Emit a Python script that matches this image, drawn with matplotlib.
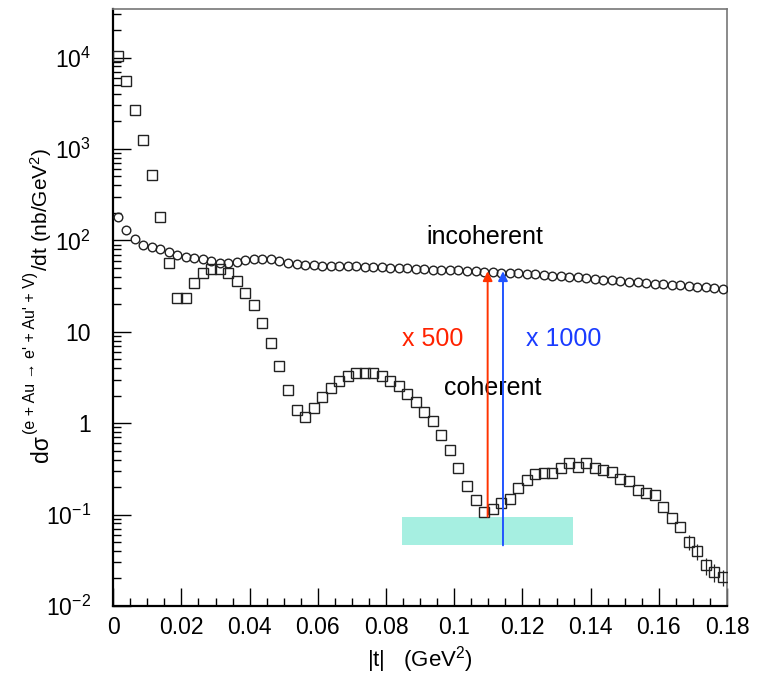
import numpy as np
import matplotlib
matplotlib.use("Agg")
import matplotlib.pyplot as plt
from matplotlib.ticker import FixedLocator, FixedFormatter, MultipleLocator, LogLocator, NullFormatter

plt.rcParams['font.family'] = ['Liberation Sans', 'DejaVu Sans']
plt.rcParams['mathtext.fontset'] = 'custom'
plt.rcParams['mathtext.rm'] = 'Liberation Sans'
plt.rcParams['mathtext.it'] = 'Liberation Sans:italic'
plt.rcParams['mathtext.bf'] = 'Liberation Sans:bold'

# bin centres in |t| (GeV^2)
t_bins = [0.00125, 0.00375, 0.00625, 0.00875, 0.01125, 0.01375, 0.01625, 0.01875,
          0.02125, 0.02375, 0.02625, 0.02875, 0.03125, 0.03375, 0.03625, 0.03875,
          0.04125, 0.04375, 0.04625, 0.04875, 0.05125, 0.05375, 0.05625, 0.05875,
          0.06125, 0.06375, 0.06625, 0.06875, 0.07125, 0.07375, 0.07625, 0.07875,
          0.08125, 0.08375, 0.08625, 0.08875, 0.09125, 0.09375, 0.09625, 0.09875,
          0.10125, 0.10375, 0.10625, 0.10875, 0.11125, 0.11375, 0.11625, 0.11875,
          0.12125, 0.12375, 0.12625, 0.12875, 0.13125, 0.13375, 0.13625, 0.13875,
          0.14125, 0.14375, 0.14625, 0.14875, 0.15125, 0.15375, 0.15625, 0.15875,
          0.16125, 0.16375, 0.16625, 0.16875, 0.17125, 0.17375, 0.17625, 0.17875]

# coherent cross section (squares)
coherent = [10500, 5500, 2700, 1240, 515, 180, 57, 23.3,
            23.3, 34.4, 44.3, 49, 49, 43.5, 35.6, 26.7,
            19.4, 12.6, 7.6, 4.25, 2.32, 1.38, 1.17, 1.45,
            1.93, 2.45, 2.9, 3.27, 3.5, 3.5, 3.5, 3.27,
            2.88, 2.54, 2.11, 1.7, 1.33, 1.06, 0.74, 0.506,
            0.327, 0.206, 0.143, 0.107, 0.116, 0.134, 0.147, 0.196,
            0.238, 0.281, 0.288, 0.288, 0.319, 0.362, 0.333, 0.365,
            0.324, 0.311, 0.29, 0.242, 0.233, 0.186, 0.17, 0.162,
            0.122, 0.092, 0.073, 0.050, 0.040, 0.0278, 0.0235, 0.0207]

# statistical errors on coherent points (only visible at the tail)
coherent_err = [0] * 67 + [0.009, 0.008, 0.006, 0.005, 0.004]

# incoherent cross section (circles)
incoherent = [182, 130, 103, 89, 84.5, 81, 74.5, 68.5,
              66.3, 64, 62, 58.9, 57, 56, 57.8, 60.8,
              63, 63, 62, 59, 57, 54.6, 54, 54,
              52.4, 52, 52, 52.4, 52.4, 51.5, 51, 50.5,
              50, 50, 49.5, 49, 48.5, 48, 48, 47.5,
              47, 46.5, 46, 45.5, 45, 44.5, 44, 43.5,
              43, 42.5, 42, 41.2, 40.5, 40, 39.3, 38.6,
              38, 37.3, 36.6, 36, 35.4, 34.8, 34.2, 33.7,
              33.1, 32.6, 32.1, 31.6, 31.1, 30.6, 30.1, 29.6]

fig = plt.figure(figsize=(7.6, 6.74), dpi=100)
ax = fig.add_axes([0.149, 0.101, 0.8076, 0.8856])

# acceptance band
ax.fill_between([0.0848, 0.1347], [0.046, 0.046], [0.094, 0.094],
                color='#a6efe1', lw=0, zorder=1)

ax.errorbar(t_bins, coherent, yerr=coherent_err, fmt='s', ms=6.5, mfc='none',
            mec='#222222', mew=1.0, ecolor='#222222', elinewidth=0.9,
            capsize=0, zorder=3)
ax.plot(t_bins, incoherent, 'o', ms=6.2, mfc='none', mec='#222222', mew=1.0,
        zorder=3)

# scaling arrows
ax.annotate('', xy=(0.1098, 46), xytext=(0.1098, 0.095),
            arrowprops=dict(arrowstyle='-|>', color='#ff3300', lw=1.4,
                            mutation_scale=14, shrinkA=0, shrinkB=0), zorder=4)
ax.annotate('', xy=(0.1143, 46), xytext=(0.1143, 0.046),
            arrowprops=dict(arrowstyle='-|>', color='#2255ff', lw=1.4,
                            mutation_scale=14, shrinkA=0, shrinkB=0), zorder=4)

ax.text(0.109, 110, 'incoherent', fontsize=18, ha='center', va='center')
ax.text(0.1113, 2.4, 'coherent', fontsize=18, ha='center', va='center')
ax.text(0.0938, 8.3, 'x 500', fontsize=18, color='#ff2200', ha='center', va='center')
ax.text(0.132, 8.3, 'x 1000', fontsize=18, color='#1a3cff', ha='center', va='center')

ax.set_yscale('log')
ax.set_xlim(0, 0.18)
ax.set_ylim(0.01, 3.4e4)

ax.xaxis.set_minor_locator(MultipleLocator(0.005))
ax.set_xticks([0, 0.02, 0.04, 0.06, 0.08, 0.1, 0.12, 0.14, 0.16, 0.18])
ax.set_xticklabels(['0', '0.02', '0.04', '0.06', '0.08', '0.1', '0.12', '0.14', '0.16', '0.18'])

ytick_vals = [1e-2, 1e-1, 1, 10, 1e2, 1e3, 1e4]
ytick_labels = [r'$10^{-2}$', r'$10^{-1}$', '1', '10', r'$10^{2}$', r'$10^{3}$', r'$10^{4}$']
ax.yaxis.set_major_locator(FixedLocator(ytick_vals))
ax.yaxis.set_major_formatter(FixedFormatter(ytick_labels))
ax.yaxis.set_minor_locator(LogLocator(base=10, subs=np.arange(2, 10), numticks=20))
ax.yaxis.set_minor_formatter(NullFormatter())

ax.tick_params(which='both', direction='in', top=False, right=False, labelsize=16.5,
               width=1.0, color='black')
ax.tick_params(which='major', length=13)
ax.tick_params(axis='x', which='major', pad=7)
ax.tick_params(axis='y', which='major', pad=16)
ax.tick_params(which='minor', length=6)

for side in ['left', 'bottom']:
    ax.spines[side].set_linewidth(1.6)
    ax.spines[side].set_color('black')
for side in ['top', 'right']:
    ax.spines[side].set_linewidth(1.2)
    ax.spines[side].set_color('#777777')

ax.set_xlabel(r'|t|   (GeV$^{2}$)', fontsize=16, labelpad=4)

# y title built from pieces, running bottom to top
fig.canvas.draw()
renderer = fig.canvas.get_renderer()
W, H = fig.bbox.width, fig.bbox.height
y_pos = 212.0
pieces = [('dσ', 48, 16.5),
          ("(e + Au → e' + Au' + V)", 35, 11.5),
          ('/dt (nb/GeV$^{2}$)', 48, 15)]
for txt, xb, fs in pieces:
    t = fig.text(xb / W, y_pos / H, txt, rotation=90, rotation_mode='anchor',
                 ha='left', va='baseline', fontsize=fs)
    bb = t.get_window_extent(renderer)
    y_pos = bb.y1 + 1

fig.savefig('out.png', dpi=100)
